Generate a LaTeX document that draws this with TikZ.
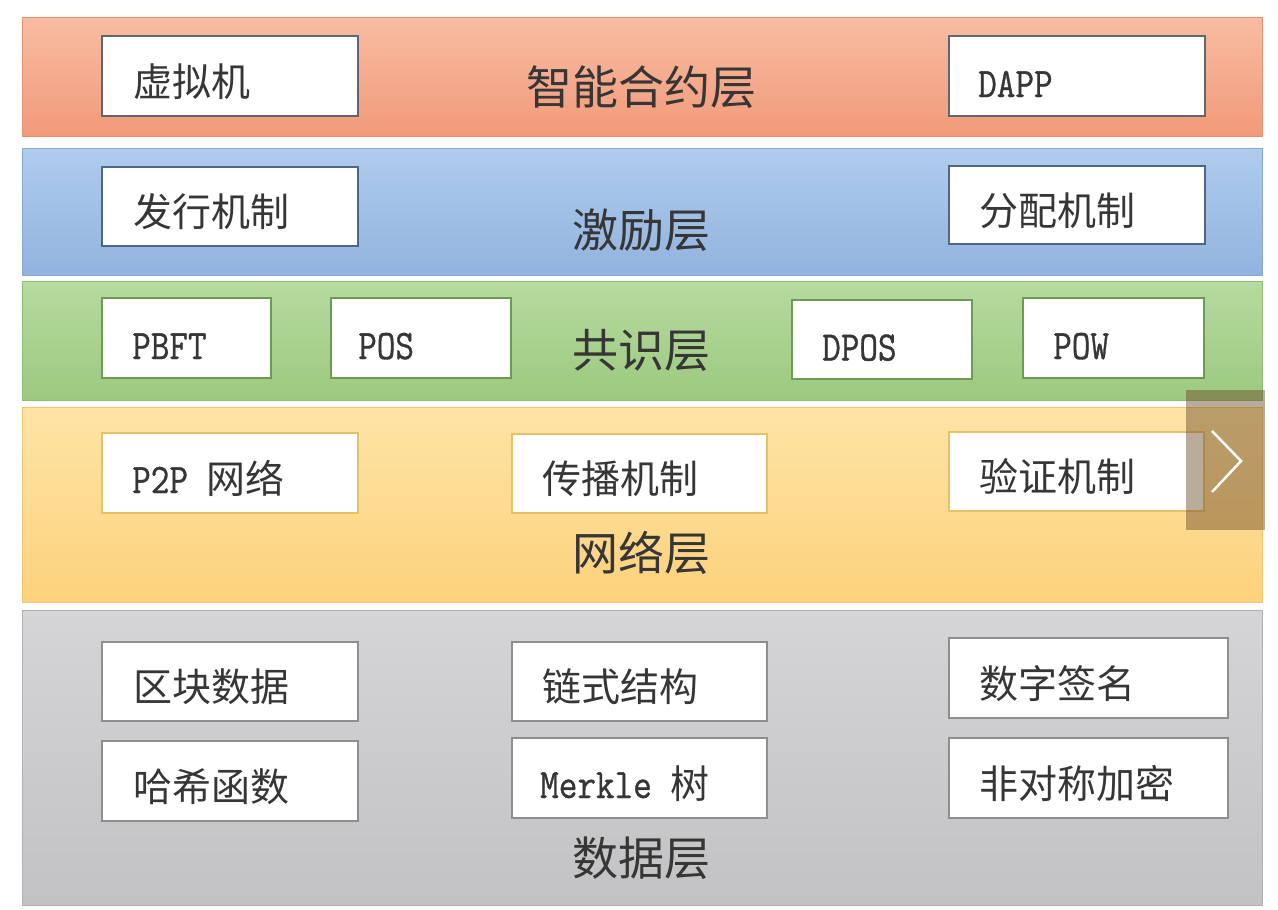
\documentclass[tikz,border=0pt]{standalone}
\usepackage{fontspec}
\newfontfamily\cjk{Noto Sans CJK SC}
\newfontfamily\lat[FakeStretch=0.86,FakeBold=0.8]{Latin Modern Mono}
\definecolor{txt}{HTML}{363636}
\definecolor{oT}{HTML}{F8BCA3}\definecolor{oB}{HTML}{F19A79}
\definecolor{bT}{HTML}{AFCCEE}\definecolor{bB}{HTML}{92B3DE}
\definecolor{gT}{HTML}{B6DA9F}\definecolor{gB}{HTML}{9CC97F}
\definecolor{yT}{HTML}{FEE4A6}\definecolor{yB}{HTML}{FCD27C}
\definecolor{sT}{HTML}{D5D5D7}\definecolor{sB}{HTML}{C2C2C4}
\definecolor{oL}{HTML}{E8906E}\definecolor{bL}{HTML}{86A8D4}
\definecolor{gL}{HTML}{8FBC72}\definecolor{yL}{HTML}{F2C66E}
\definecolor{sL}{HTML}{B0B0B2}
\definecolor{kO}{HTML}{5E6670}\definecolor{kB}{HTML}{4F6685}
\definecolor{kG}{HTML}{6E9A55}\definecolor{kY}{HTML}{E6C267}
\definecolor{kS}{HTML}{8E8E90}
\newcommand{\latfont}{\fontsize{42}{46}\selectfont\lat}
\begin{document}
\begin{tikzpicture}[x=1pt,y=-1pt,
  band/.style={draw=#1, line width=1pt, inner sep=0pt, minimum width=1240pt, anchor=north west},
  box/.style={draw=#1, line width=2pt, fill=white, inner sep=0pt, anchor=north west},
  boxtxt/.style={anchor=base west, inner sep=0pt, text=txt, font=\fontsize{39}{44}\selectfont\cjk},
  lattxt/.style={boxtxt, font=\latfont},
  title/.style={anchor=base, inner sep=0pt, text=txt, font=\fontsize{46}{52}\selectfont\cjk}]
\useasboundingbox (0,0) rectangle (1278,910);
\fill[white] (0,0) rectangle (1278,910);
% bands
\node[band=oL, top color=oT, bottom color=oB, minimum height=119pt] (b1) at (22,17) {};
\node[band=bL, top color=bT, bottom color=bB, minimum height=127pt] (b2) at (22,148) {};
\node[band=gL, top color=gT, bottom color=gB, minimum height=119pt] (b3) at (22,281) {};
\node[band=yL, top color=yT, bottom color=yB, minimum height=195pt] (b4) at (22,407) {};
\node[band=sL, top color=sT, bottom color=sB, minimum height=295pt] (b5) at (22,610) {};
% titles
\node[title] (t1) at (641,104) {智能合约层};
\node[title] (t2) at (641,247) {激励层};
\node[title] (t3) at (641,367) {共识层};
\node[title] (t4) at (641,570) {网络层};
\node[title] (t5) at (641,875) {数据层};
% layer 1
\node[box=kO, minimum width=256pt, minimum height=80pt] (vm) at (101,35) {};
\node[boxtxt] (vmt) at ([xshift=32pt,yshift=-20pt]vm.west) {虚拟机};
\node[box=kO, minimum width=256pt, minimum height=80pt] (dapp) at (948,35) {};
\node[lattxt] (dappt) at ([xshift=30pt,yshift=-21pt]dapp.west) {DAPP};
% layer 2
\node[box=kB, minimum width=256pt, minimum height=79pt] (fx) at (101,166) {};
\node[boxtxt] (fxt) at ([xshift=32pt,yshift=-20pt]fx.west) {发行机制};
\node[box=kB, minimum width=256pt, minimum height=78pt] (fp) at (948,165) {};
\node[boxtxt] (fpt) at ([xshift=31pt,yshift=-20pt]fp.west) {分配机制};
% layer 3
\node[box=kG, minimum width=169pt, minimum height=80pt] (pbft) at (101,297) {};
\node[lattxt] (pbftt) at ([xshift=31pt,yshift=-21pt]pbft.west) {PBFT};
\node[box=kG, minimum width=180pt, minimum height=80pt] (pos) at (330,297) {};
\node[lattxt] (post) at ([xshift=28pt,yshift=-21pt]pos.west) {POS};
\node[box=kG, minimum width=180pt, minimum height=79pt] (dpos) at (791,299) {};
\node[lattxt] (dpost) at ([xshift=31pt,yshift=-21pt]dpos.west) {DPOS};
\node[box=kG, minimum width=181pt, minimum height=80pt] (pow) at (1022,297) {};
\node[lattxt] (powt) at ([xshift=31pt,yshift=-21pt]pow.west) {POW};
% layer 4
\node[box=kY, minimum width=256pt, minimum height=80pt] (p2p) at (101,432) {};
\node[boxtxt] (p2pt) at ([xshift=31pt,yshift=-20pt]p2p.west) {{\latfont P2P }网络};
\node[box=kY, minimum width=255pt, minimum height=79pt] (cb) at (511,433) {};
\node[boxtxt] (cbt) at ([xshift=31pt,yshift=-20pt]cb.west) {传播机制};
\node[box=kY, minimum width=255pt, minimum height=79pt] (yz) at (948,431) {};
\node[boxtxt] (yzt) at ([xshift=31pt,yshift=-20pt]yz.west) {验证机制};
% layer 5
\node[box=kS, minimum width=256pt, minimum height=79pt] (qk) at (101,641) {};
\node[boxtxt] (qkt) at ([xshift=32pt,yshift=-20pt]qk.west) {区块数据};
\node[box=kS, minimum width=256pt, minimum height=80pt] (hx) at (101,740) {};
\node[boxtxt] (hxt) at ([xshift=32pt,yshift=-20pt]hx.west) {哈希函数};
\node[box=kS, minimum width=255pt, minimum height=79pt] (ls) at (511,641) {};
\node[boxtxt] (lst) at ([xshift=31pt,yshift=-20pt]ls.west) {链式结构};
\node[box=kS, minimum width=255pt, minimum height=80pt] (mk) at (511,737) {};
\node[boxtxt] (mkt) at ([xshift=29pt,yshift=-20pt]mk.west) {{\latfont Merkle }树};
\node[box=kS, minimum width=279pt, minimum height=80pt] (sz) at (948,637) {};
\node[boxtxt] (szt) at ([xshift=31pt,yshift=-20pt]sz.west) {数字签名};
\node[box=kS, minimum width=279pt, minimum height=80pt] (fd) at (948,737) {};
\node[boxtxt] (fdt) at ([xshift=31pt,yshift=-20pt]fd.west) {非对称加密};
% gallery arrow overlay
\node[fill=black!45!brown, fill opacity=0.45, inner sep=0pt, minimum width=79pt, minimum height=140pt, anchor=north west] (ov) at (1186,390) {};
\coordinate (c1) at (1212,431);
\coordinate (c2) at (1241,461);
\coordinate (c3) at (1212,492);
\draw[white, line width=2.5pt, line join=miter] (c1) -- (c2) -- (c3);
\end{tikzpicture}
\end{document}
